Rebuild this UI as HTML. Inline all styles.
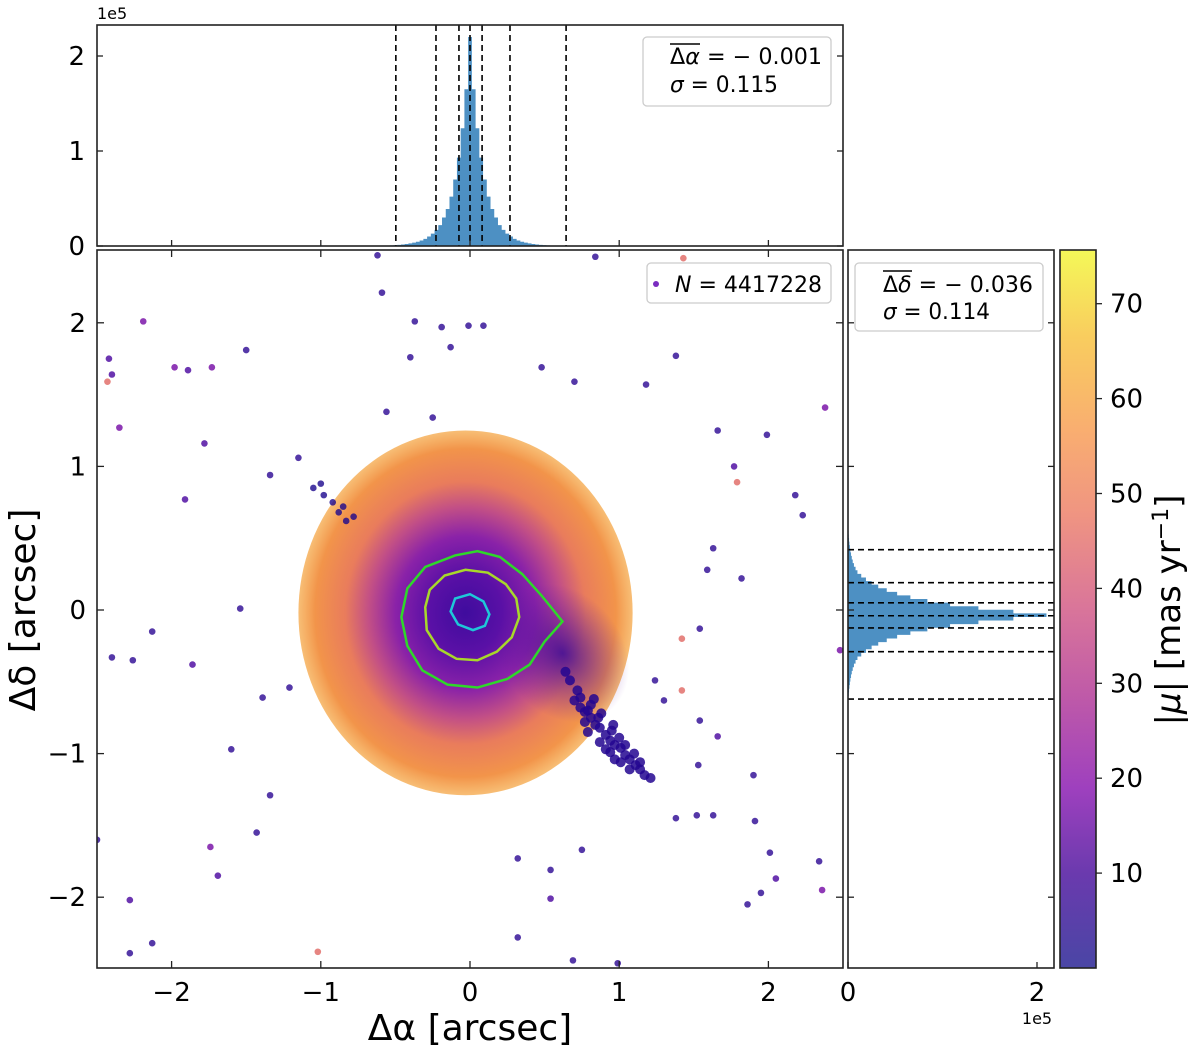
<!DOCTYPE html>
<html><head><meta charset="utf-8">
<style>
html,body{margin:0;padding:0;background:#fff;}
svg{display:block;font-family:"DejaVu Sans","Liberation Sans",sans-serif;}
</style></head>
<body>
<svg id="fig" width="1200" height="1049" viewBox="0 0 1200 1049" xmlns="http://www.w3.org/2000/svg">
<defs>
<radialGradient id="cloudGrad" cx="0.5" cy="0.5" r="0.5">
<stop offset="0" stop-color="#3f0c9e"/>
<stop offset="0.22" stop-color="#5a10a6"/>
<stop offset="0.42" stop-color="#8a22a8"/>
<stop offset="0.58" stop-color="#c24f86"/>
<stop offset="0.72" stop-color="#e97c5c"/>
<stop offset="0.9" stop-color="#f2944a"/>
<stop offset="1" stop-color="#f5a848" stop-opacity="0.75"/>
</radialGradient>
<radialGradient id="tailGrad" cx="0.5" cy="0.5" r="0.5">
<stop offset="0" stop-color="#3a0a98" stop-opacity="0.85"/>
<stop offset="1" stop-color="#6a1aa0" stop-opacity="0"/>
</radialGradient>
<linearGradient id="cbGrad" x1="0" y1="1" x2="0" y2="0">
<stop offset="0" stop-color="#4a46a5"/>
<stop offset="0.13" stop-color="#6a3aae"/>
<stop offset="0.25" stop-color="#9e40be"/>
<stop offset="0.38" stop-color="#bf5aa8"/>
<stop offset="0.5" stop-color="#d9759a"/>
<stop offset="0.63" stop-color="#ef9482"/>
<stop offset="0.75" stop-color="#f9ae70"/>
<stop offset="0.88" stop-color="#f9cd5e"/>
<stop offset="1" stop-color="#f4f858"/>
</linearGradient>
<clipPath id="mainClip"><rect x="97" y="250" width="746" height="718"/></clipPath>
</defs>
<g id="top-hist"></g>
<g id="main"></g>
<g id="right-hist"></g>
<g id="cbar"></g>
</svg>
<script>
// ---------- data ----------
const mainXTicks = [-2, -1, 0, 1, 2];
const mainYTicks = [-2, -1, 0, 1, 2];
const histYTicks = [0, 1, 2];
const rhistXTicks = [0, 2];
const cbTicks = [10, 20, 30, 40, 50, 60, 70];
const tickLabelsMain = ["\u22122", "\u22121", "0", "1", "2"];

const histBinStart = -0.625, histBinStep = 0.025;
const topCounts = [0.002,0.003,0.004,0.005,0.007,0.009,0.012,0.016,0.021,0.027,0.035,0.045,0.058,0.075,0.10,0.13,0.17,0.22,0.30,0.39,0.52,0.70,0.93,1.24,1.65,2.2,1.65,1.24,0.93,0.70,0.52,0.39,0.30,0.22,0.17,0.13,0.10,0.075,0.058,0.045,0.035,0.027,0.021,0.016,0.012,0.009,0.007,0.005,0.004,0.003,0.002];
const rightCenter = -0.036;
const rightCounts = [0.003,0.004,0.006,0.008,0.011,0.015,0.02,0.025,0.032,0.04,0.05,0.063,0.08,0.10,0.14,0.19,0.25,0.32,0.41,0.52,0.66,0.84,1.08,1.38,1.75,2.1,1.75,1.38,1.08,0.84,0.66,0.52,0.41,0.32,0.25,0.19,0.14,0.10,0.08,0.063,0.05,0.04,0.032,0.025,0.02,0.015,0.011,0.008,0.006,0.004,0.003];
const topDashed = [-0.497, -0.228, -0.074, 0, 0.081, 0.268, 0.644];
const rightDashed = [0.42, 0.19, 0.05, -0.04, -0.125, -0.29, -0.62];

const cloudCenter = [-0.03, -0.02];
const cloudRadius = [1.12, 1.27];

const outX = [-0.62,0.84,1.43,-0.59,-0.37,-0.19,-0.01,0.09,-0.13,-0.40,-2.19,-1.98,-1.89,-1.73,-1.50,-2.42,-2.40,-2.43,-2.35,-1.78,-1.91,-1.15,-1.34,1.38,1.18,0.70,0.48,-0.25,-0.56,2.38,1.99,1.77,1.66,2.18,2.23,1.79,1.63,1.82,1.59,2.48,-1.54,-2.13,-2.40,-2.26,-1.86,-1.39,-1.21,-1.60,-1.34,-1.43,-1.74,-1.69,-2.28,-2.50,-1.02,-2.13,-2.28,0.32,0.54,0.54,0.32,0.75,1.38,1.52,1.63,1.53,1.66,1.54,1.90,1.91,2.01,2.05,1.95,2.34,2.36,1.86,0.99,0.69,1.30,1.42,1.24,1.42,1.54,-1.05,-0.98,-0.92,-0.88,-0.85,-0.78,-1.00,-0.83];
const outY = [2.47,2.46,2.45,2.21,2.01,1.97,1.98,1.98,1.83,1.76,2.01,1.69,1.67,1.69,1.81,1.75,1.64,1.59,1.27,1.16,0.77,1.06,0.94,1.77,1.57,1.59,1.69,1.34,1.38,1.41,1.22,1.00,1.25,0.80,0.66,0.89,0.43,0.22,0.28,-0.28,0.01,-0.15,-0.33,-0.35,-0.38,-0.61,-0.54,-0.97,-1.29,-1.55,-1.65,-1.85,-2.02,-1.60,-2.38,-2.32,-2.39,-2.28,-2.01,-1.81,-1.73,-1.67,-1.45,-1.43,-1.43,-1.08,-0.88,-0.77,-1.15,-1.47,-1.69,-1.87,-1.97,-1.75,-1.95,-2.05,-2.46,-2.44,-0.63,-0.56,-0.49,-0.20,-0.13,0.85,0.80,0.75,0.68,0.72,0.65,0.88,0.62];
const outMu = [4,4,40,4,4,4,4,4,4,4,15,15,8,15,4,8,8,40,15,8,8,4,4,4,4,4,4,4,4,15,4,8,4,4,4,40,4,4,4,15,4,4,4,4,8,4,4,4,4,4,15,8,8,4,40,4,4,4,8,4,4,4,4,4,4,4,8,4,4,4,4,8,4,4,15,4,4,4,4,40,4,40,4,2,2,2,2,2,2,2,2];

const tailX = [0.64,0.67,0.72,0.70,0.74,0.77,0.81,0.77,0.84,0.87,0.79,0.91,0.94,0.87,0.97,1.01,0.94,1.04,1.07,1.01,1.11,1.14,1.17,1.21,1.07,1.14,0.86,0.95,1.04,0.79,0.91,0.97,0.74,0.81,0.88,1.00,1.10,0.83,0.96];
const tailY = [-0.43,-0.49,-0.56,-0.63,-0.68,-0.71,-0.75,-0.78,-0.80,-0.82,-0.85,-0.87,-0.91,-0.92,-0.94,-0.96,-0.99,-1.01,-1.04,-1.06,-1.08,-1.11,-1.15,-1.17,-1.11,-1.06,-0.75,-0.84,-0.94,-0.70,-0.97,-1.04,-0.61,-0.66,-0.72,-0.89,-1.00,-0.62,-0.80];

const contourCyanX = [0.0,0.09,0.13,0.10,0.02,-0.08,-0.13,-0.10];
const contourCyanY = [0.11,0.06,-0.03,-0.11,-0.14,-0.10,-0.01,0.08];
const contourYellowX = [-0.30,-0.27,-0.17,-0.03,0.12,0.24,0.31,0.33,0.28,0.18,0.05,-0.09,-0.21,-0.29];
const contourYellowY = [0.02,0.14,0.24,0.28,0.26,0.18,0.08,-0.05,-0.19,-0.29,-0.35,-0.34,-0.27,-0.14];
const contourGreenX = [-0.46,-0.42,-0.30,-0.10,0.05,0.20,0.35,0.48,0.62,0.50,0.40,0.25,0.05,-0.15,-0.32,-0.42];
const contourGreenY = [-0.05,0.15,0.30,0.38,0.41,0.37,0.25,0.10,-0.08,-0.22,-0.38,-0.48,-0.54,-0.52,-0.42,-0.25];

// ---------- scales ----------
const M = {x0:97, x1:843, y0:250, y1:968};
const sx = v => 470 + v*149.2;
const sy = v => 610 - v*143.6;
const TH = {y0:25, y1:246};
const shy = v => 246 - v*95;
const rhx = v => 848 + v*94.5;
const CB = {x0:1060, x1:1096};
const cby = v => 968 - v*9.49;

const NS = "http://www.w3.org/2000/svg";
function mk(tag, attrs, parent){ const e=document.createElementNS(NS,tag); for(const k in attrs) e.setAttribute(k, attrs[k]); parent.appendChild(e); return e; }
function txt(parent, x, y, s, size, anchor, extra){ const t=mk("text",Object.assign({x:x,y:y,"font-size":size,"text-anchor":anchor||"middle",fill:"#000"},extra||{}),parent); t.textContent=s; return t; }

function plasma(mu){
  const stops=[[0,[13,8,135]],[0.13,[84,2,163]],[0.25,[139,10,165]],[0.38,[185,50,137]],[0.5,[219,92,104]],[0.63,[244,136,73]],[0.75,[254,188,43]],[0.88,[248,225,37]],[1,[240,249,33]]];
  const t=Math.max(0,Math.min(1,mu/75.7));
  let i=0; while(i<stops.length-2 && t>stops[i+1][0]) i++;
  const a=stops[i],b=stops[i+1],f=(t-a[0])/(b[0]-a[0]);
  const c=a[1].map((v,k)=>Math.round(v+(b[1][k]-v)*f));
  return "rgb("+c.join(",")+")";
}

// ---------- top histogram ----------
const th = document.getElementById("top-hist");
{
  let d = "M"+sx(histBinStart-histBinStep/2)+","+shy(0);
  topCounts.forEach((c,i)=>{ const xl=sx(histBinStart+i*histBinStep-histBinStep/2), xr=sx(histBinStart+i*histBinStep+histBinStep/2); d+=" L"+xl+","+shy(c)+" L"+xr+","+shy(c); });
  d+=" L"+sx(histBinStart+(topCounts.length-1)*histBinStep+histBinStep/2)+","+shy(0)+" Z";
  const p=mk("path",{d:d,fill:"#3a84bd","fill-opacity":"0.9"},th);
  
  
  topDashed.forEach(v=>{
    const l=mk("line",{x1:sx(v),x2:sx(v),y1:TH.y0,y2:TH.y1,stroke:"#000","stroke-width":1.6,"stroke-dasharray":"6,4"},th);
    
    
  });
  const fr=mk("rect",{x:M.x0,y:TH.y0,width:M.x1-M.x0,height:TH.y1-TH.y0,fill:"none",stroke:"#222","stroke-width":1.6},th);
  
  
  histYTicks.forEach(v=>{
    mk("line",{x1:M.x0,x2:M.x0+6,y1:shy(v),y2:shy(v),stroke:"#222","stroke-width":1.3},th);
    mk("line",{x1:M.x1,x2:M.x1-6,y1:shy(v),y2:shy(v),stroke:"#222","stroke-width":1.3},th);
    const t=txt(th,85,shy(v)+9,String(v),26,"end");
    
    
  });
  mainXTicks.forEach(v=>{ mk("line",{x1:sx(v),x2:sx(v),y1:TH.y1,y2:TH.y1-6,stroke:"#222","stroke-width":1.3},th); });
  const e=txt(th,97,19,"1e5",16,"start");
  
  
  const lg=mk("g",{},th);
  
  
  mk("rect",{x:643,y:37,width:188,height:69,rx:4,fill:"#fff",stroke:"#ccc","stroke-width":1.3},lg);
  mk("line",{x1:670,x2:700,y1:44,y2:44,stroke:"#000","stroke-width":1.5},lg);
  const t1=txt(lg,670,64,"",22,"start",{textLength:152,lengthAdjust:"spacingAndGlyphs"});
  t1.innerHTML='\u0394<tspan font-style="italic">\u03b1</tspan> = \u2212 0.001';
  const t2=txt(lg,670,92,"",22,"start",{textLength:108,lengthAdjust:"spacingAndGlyphs"});
  t2.innerHTML='<tspan font-style="italic">\u03c3</tspan> = 0.115';
}

// ---------- main scatter ----------
const mg = document.getElementById("main");
{
  const cg=mk("g",{"clip-path":"url(#mainClip)"},mg);
  const cl=mk("ellipse",{cx:sx(cloudCenter[0]),cy:sy(cloudCenter[1]),rx:cloudRadius[0]*149.2,ry:cloudRadius[1]*143.6,fill:"url(#cloudGrad)"},cg);
  
  
  const dk=mk("ellipse",{cx:sx(0.62),cy:sy(-0.3),rx:60,ry:75,fill:"url(#tailGrad)",transform:"rotate(-40 "+sx(0.62)+" "+sy(-0.3)+")"},cg);
  
  
  tailX.forEach((x,i)=>{
    const c=mk("circle",{cx:sx(x),cy:sy(tailY[i]),r:5,fill:plasma(3),"fill-opacity":0.85},cg);
    
    
  });
  outX.forEach((x,i)=>{
    const c=mk("circle",{cx:sx(x),cy:sy(outY[i]),r:3.3,fill:plasma(outMu[i]),"fill-opacity":0.8},cg);
    
    
  });
  const poly=(xs,ys,col,nm)=>{
    const p=mk("polygon",{points:xs.map((x,i)=>sx(x)+","+sy(ys[i])).join(" "),fill:"none",stroke:col,"stroke-width":2.5},cg);
    
    
  };
  poly(contourGreenX,contourGreenY,"#2ed82a","contour-outer");
  poly(contourYellowX,contourYellowY,"#a8d82a","contour-middle");
  poly(contourCyanX,contourCyanY,"#1ec8d8","contour-inner");
  const fr=mk("rect",{x:M.x0,y:M.y0,width:M.x1-M.x0,height:M.y1-M.y0,fill:"none",stroke:"#222","stroke-width":1.6},mg);
  
  
  mainXTicks.forEach((v,i)=>{
    mk("line",{x1:sx(v),x2:sx(v),y1:M.y1,y2:M.y1-7,stroke:"#222","stroke-width":1.3},mg);
    mk("line",{x1:sx(v),x2:sx(v),y1:M.y0,y2:M.y0+7,stroke:"#222","stroke-width":1.3},mg);
    const t=txt(mg,sx(v),1001,tickLabelsMain[i],26,"middle");
    
    
  });
  mainYTicks.forEach((v,i)=>{
    mk("line",{x1:M.x0,x2:M.x0+7,y1:sy(v),y2:sy(v),stroke:"#222","stroke-width":1.3},mg);
    mk("line",{x1:M.x1,x2:M.x1-7,y1:sy(v),y2:sy(v),stroke:"#222","stroke-width":1.3},mg);
    const t=txt(mg,86,sy(v)+9,tickLabelsMain[i],26,"end");
    
    
  });
  const xt=txt(mg,470,1040,"\u0394\u03b1 [arcsec]",36,"middle");
  
  
  const yt=txt(mg,35,610,"\u0394\u03b4 [arcsec]",36,"middle",{transform:"rotate(-90 35 610)"});
  
  
  const lg=mk("g",{},mg);
  
  
  mk("rect",{x:647,y:263,width:184,height:40,rx:4,fill:"#fff",stroke:"#ccc","stroke-width":1.3},lg);
  mk("circle",{cx:656,cy:284,r:3,fill:"#7a2cc0"},lg);
  const t=txt(lg,675,292,"",22,"start",{textLength:147,lengthAdjust:"spacingAndGlyphs"});
  t.innerHTML='<tspan font-style="italic">N</tspan> = 4417228';
}

// ---------- right histogram ----------
const rh = document.getElementById("right-hist");
{
  const RX0=848, RX1=1054;
  let d="M"+rhx(0)+","+sy(rightCenter+histBinStart-histBinStep/2);
  rightCounts.forEach((c,i)=>{ const ya=sy(rightCenter+histBinStart+i*histBinStep-histBinStep/2), yb=sy(rightCenter+histBinStart+i*histBinStep+histBinStep/2); d+=" L"+rhx(c)+","+ya+" L"+rhx(c)+","+yb; });
  d+=" L"+rhx(0)+","+sy(rightCenter+histBinStart+(rightCounts.length-1)*histBinStep+histBinStep/2)+" Z";
  const p=mk("path",{d:d,fill:"#3a84bd","fill-opacity":"0.9"},rh);
  
  
  rightDashed.forEach(v=>{
    const l=mk("line",{x1:RX0,x2:RX1,y1:sy(v),y2:sy(v),stroke:"#000","stroke-width":1.6,"stroke-dasharray":"6,4"},rh);
    
    
  });
  const fr=mk("rect",{x:RX0,y:M.y0,width:RX1-RX0,height:M.y1-M.y0,fill:"none",stroke:"#222","stroke-width":1.6},rh);
  
  
  mainYTicks.forEach(v=>{
    mk("line",{x1:RX0,x2:RX0+6,y1:sy(v),y2:sy(v),stroke:"#222","stroke-width":1.3},rh);
    mk("line",{x1:RX1,x2:RX1-6,y1:sy(v),y2:sy(v),stroke:"#222","stroke-width":1.3},rh);
  });
  rhistXTicks.forEach(v=>{
    mk("line",{x1:rhx(v),x2:rhx(v),y1:M.y1,y2:M.y1-6,stroke:"#222","stroke-width":1.3},rh);
    const t=txt(rh,rhx(v),1001,String(v),26,"middle");
    
    
  });
  const e=txt(rh,1037,1024,"1e5",16,"middle");
  
  
  const lg=mk("g",{},rh);
  
  
  mk("rect",{x:855,y:263,width:188,height:68,rx:4,fill:"#fff",stroke:"#ccc","stroke-width":1.3},lg);
  mk("line",{x1:883,x2:912,y1:271,y2:271,stroke:"#000","stroke-width":1.5},lg);
  const t1=txt(lg,883,292,"",22,"start",{textLength:150,lengthAdjust:"spacingAndGlyphs"});
  t1.innerHTML='\u0394<tspan font-style="italic">\u03b4</tspan> = \u2212 0.036';
  const t2=txt(lg,883,319,"",22,"start",{textLength:107,lengthAdjust:"spacingAndGlyphs"});
  t2.innerHTML='<tspan font-style="italic">\u03c3</tspan> = 0.114';
}

// ---------- colorbar ----------
const cb = document.getElementById("cbar");
{
  const r=mk("rect",{x:CB.x0,y:M.y0,width:CB.x1-CB.x0,height:M.y1-M.y0,fill:"url(#cbGrad)",stroke:"#222","stroke-width":1.6},cb);
  
  
  cbTicks.forEach(v=>{
    mk("line",{x1:CB.x1,x2:CB.x1+6,y1:cby(v),y2:cby(v),stroke:"#222","stroke-width":1.3},cb);
    const t=txt(cb,1110,cby(v)+9,String(v),26,"start");
    
    
  });
  const t=txt(cb,1180,610,"",34,"middle",{transform:"rotate(-90 1180 610)"});
  t.innerHTML='|<tspan font-style="italic">\u03bc</tspan>| [mas yr<tspan dy="-12" font-size="22">\u22121</tspan><tspan dy="12">]</tspan>';
  
  
}
</script>
</body></html>
